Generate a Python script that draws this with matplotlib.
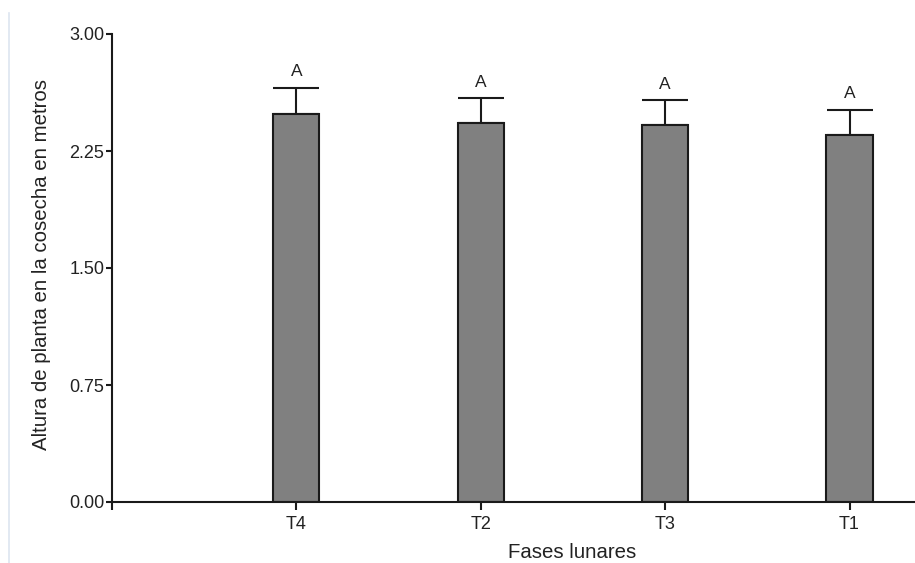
import matplotlib
matplotlib.use("Agg")
import matplotlib.pyplot as plt
from matplotlib.lines import Line2D

plt.rcParams['font.family'] = ['Liberation Sans', 'DejaVu Sans']

categories = ['T4', 'T2', 'T3', 'T1']
means = [2.49, 2.43, 2.415, 2.35]
errors = [0.165, 0.16, 0.162, 0.165]
letters = ['A', 'A', 'A', 'A']
yticks = [0.00, 0.75, 1.50, 2.25, 3.00]

fig = plt.figure(figsize=(9.15, 5.63), dpi=100)
ax = fig.add_axes([112/915, 1 - 502/563, 1 - 112/915, (502 - 34)/563])

pos = list(range(1, len(categories) + 1))
ax.bar(pos, means, width=0.25, color='#808080', edgecolor='#1a1a1a', linewidth=1.5, zorder=2)
ax.errorbar(pos, means, yerr=[[0]*len(errors), errors], fmt='none', ecolor='#1a1a1a',
            elinewidth=1.5, capsize=16.9, capthick=1.5, zorder=1)
for x, m, e, l in zip(pos, means, errors, letters):
    ax.annotate(l, (x, m + e), xytext=(0, 6), textcoords='offset points',
                ha='center', va='bottom', fontsize=12.5, color='#222222')

ax.set_xlim(0, 4.355)
ax.set_ylim(0, 3.0)
ax.set_yticks(yticks)
ax.set_yticklabels([f"{v:.2f}" for v in yticks])
ax.set_xticks([0] + pos)
ax.set_xticklabels([''] + categories)
ax.tick_params(axis='y', direction='out', length=4, width=1.5, pad=1.5, labelsize=13,
               colors='#1a1a1a', labelcolor='#222222')
ax.tick_params(axis='x', direction='out', length=6, width=1.5, pad=4, labelsize=13,
               colors='#1a1a1a', labelcolor='#222222')
for s in ['top', 'right']:
    ax.spines[s].set_visible(False)
for s in ['left', 'bottom']:
    ax.spines[s].set_linewidth(1.5)
    ax.spines[s].set_color('#1a1a1a')

fig.text(572/915, 1 - 553/563, 'Fases lunares', ha='center', va='center', fontsize=14.7, color='#222222')
fig.text(42/915, 1 - 264/563, 'Altura de planta en la cosecha en metros', ha='center', va='center',
         rotation=90, fontsize=14.7, color='#222222')

fig.add_artist(Line2D([8.5/915, 8.5/915], [0, 1 - 13/563], transform=fig.transFigure,
                      color='#dde5f0', linewidth=1.2))

fig.savefig('out.png', dpi=100)
